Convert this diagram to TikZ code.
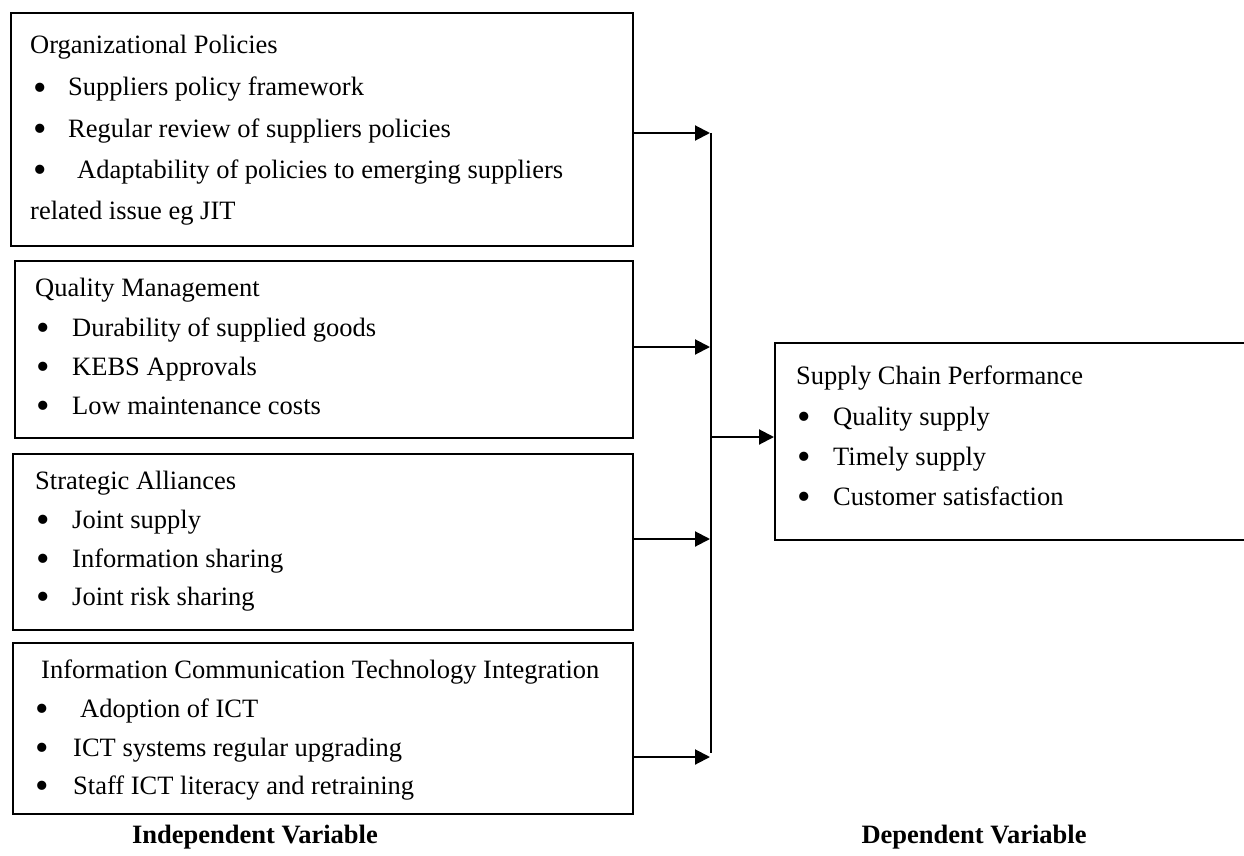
\documentclass[tikz,border=0pt]{standalone}
\usepackage{fontspec}
\setmainfont{Liberation Serif}
\usetikzlibrary{arrows.meta}
% bullet item: enlarged bullet in a box of given width, then the text
\newcommand{\itm}[2][36pt]{\makebox[#1][l]{\hspace*{1pt}\raisebox{-4.5pt}{\scalebox{1.45}{•}}}#2}
\begin{document}
\begin{tikzpicture}[x=1pt,y=-1pt,
  box/.style={draw, line width=1.7pt, inner sep=0pt, anchor=north west},
  txt/.style={anchor=base west, inner sep=0pt, font=\fontsize{26.5}{32}\selectfont},
  lbl/.style={anchor=base, inner sep=0pt, font=\fontsize{26.5}{32}\selectfont\bfseries},
  link/.style={line width=2pt, -{Triangle[length=15pt,width=15pt]}},
  bus/.style={line width=2.4pt}]
\useasboundingbox (0,0) rectangle (1244,856);

% independent variable boxes
\node[box, minimum width=622pt, minimum height=233pt] (p1) at (10,12) {};
\node[box, minimum width=618pt, minimum height=177pt] (p2) at (14,260) {};
\node[box, minimum width=620pt, minimum height=176pt] (p3) at (12,453) {};
\node[box, minimum width=620pt, minimum height=171pt] (p4) at (12,642) {};

% dependent variable box (runs off the right edge)
\node[box, minimum width=480pt, minimum height=197pt] (out) at (774,342) {};

% texts of box 1
\node[txt] (p1t) at (30,54) {Organizational Policies};
\node[txt] (p1a) at (32,96) {\itm{Suppliers policy framework}};
\node[txt] (p1b) at (32,137) {\itm{Regular review of suppliers policies}};
\node[txt] (p1c) at (32,178) {\itm[45pt]{Adaptability of policies to emerging suppliers}};
\node[txt] (p1d) at (30,219) {related issue eg JIT};

% texts of box 2
\node[txt] (p2t) at (35,296) {Quality Management};
\node[txt] (p2a) at (35,336) {\itm[37pt]{Durability of supplied goods}};
\node[txt] (p2b) at (35,375) {\itm[37pt]{KEBS Approvals}};
\node[txt] (p2c) at (35,414) {\itm[37pt]{Low maintenance costs}};

% texts of box 3
\node[txt] (p3t) at (35,489) {Strategic Alliances};
\node[txt] (p3a) at (35,528) {\itm[37pt]{Joint supply}};
\node[txt] (p3b) at (35,567) {\itm[37pt]{Information sharing}};
\node[txt] (p3c) at (35,605) {\itm[37pt]{Joint risk sharing}};

% texts of box 4
\node[txt] (p4t) at (41,678) {Information Communication Technology Integration};
\node[txt] (p4a) at (34,717) {\itm[46pt]{Adoption of ICT}};
\node[txt] (p4b) at (34,756) {\itm[39pt]{ICT systems regular upgrading}};
\node[txt] (p4c) at (34,794) {\itm[39pt]{Staff ICT literacy and retraining}};

% texts of the dependent box
\node[txt] (ot) at (796,384) {Supply Chain Performance};
\node[txt] (oa) at (796,425) {\itm[37pt]{Quality supply}};
\node[txt] (ob) at (796,465) {\itm[37pt]{Timely supply}};
\node[txt] (oc) at (796,505) {\itm[37pt]{Customer satisfaction}};

% collecting bus
\coordinate (bt) at (711,133);
\coordinate (bb) at (711,753);
\coordinate (hub) at (711,437);
\draw[bus] (bt) -- (bb);

% arrows into the bus
\coordinate (b1) at (710,133);
\coordinate (b2) at (710,347);
\coordinate (b3) at (710,539);
\coordinate (b4) at (710,757);
\draw[link] (p1.east |- b1) -- (b1);
\draw[link] (p2.east |- b2) -- (b2);
\draw[link] (p3.east |- b3) -- (b3);
\draw[link] (p4.east |- b4) -- (b4);

% arrow into the dependent box
\draw[link] (hub) -- (out.west |- hub);

% captions
\node[lbl] (li) at (255,843) {Independent Variable};
\node[lbl] (ld) at (974,843) {Dependent Variable};
\end{tikzpicture}
\end{document}
